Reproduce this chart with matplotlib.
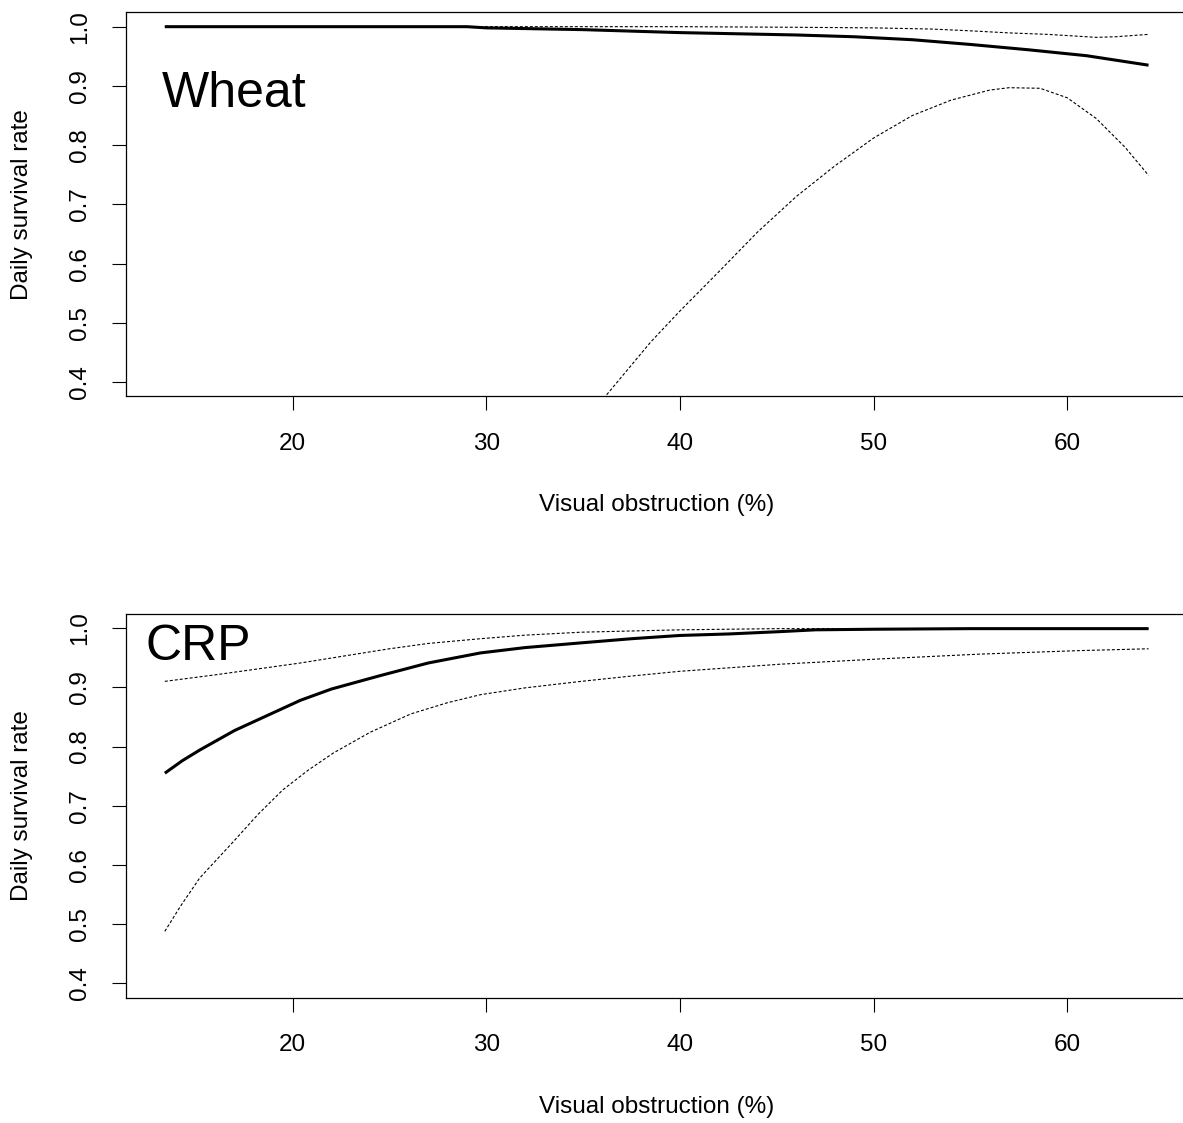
import matplotlib.pyplot as plt

plt.rcParams['font.family'] = ['Liberation Sans', 'DejaVu Sans']

# Wheat panel
wheat_x_mean = [13.4, 29.0, 30.0, 35.0, 40.0, 43.0, 46.0, 49.0, 52.0, 55.0, 58.0, 61.0, 64.2]
wheat_mean = [1.0, 1.0, 0.998, 0.995, 0.990, 0.988, 0.986, 0.983, 0.978, 0.970, 0.961, 0.951, 0.935]
wheat_x_upper = [13.4, 40.0, 46.0, 50.0, 53.0, 55.0, 57.0, 59.0, 61.5, 62.5, 64.2]
wheat_upper = [1.0, 1.0, 0.999, 0.998, 0.996, 0.993, 0.9895, 0.987, 0.982, 0.983, 0.987]
wheat_x_lower = [35.0, 36.15, 38.5, 40.0, 42.0, 44.0, 46.0, 48.0, 50.0, 52.0, 54.0, 56.0, 57.0,
                 58.6, 60.0, 61.5, 63.0, 64.2]
wheat_lower = [0.335, 0.376, 0.468, 0.520, 0.586, 0.653, 0.713, 0.765, 0.812, 0.850, 0.876, 0.893,
               0.897, 0.896, 0.880, 0.845, 0.796, 0.749]

# CRP panel
crp_x_mean = [13.4, 14.3, 15.2, 17.0, 19.0, 20.4, 22.0, 24.5, 27.0, 29.7, 32.0, 34.9, 37.5, 40.0,
              42.5, 45.2, 47.0, 50.0, 55.0, 60.0, 64.2]
crp_mean = [0.755, 0.776, 0.794, 0.827, 0.857, 0.878, 0.897, 0.9195, 0.941, 0.958, 0.967, 0.975,
            0.982, 0.9875, 0.990, 0.994, 0.997, 0.998, 0.999, 0.999, 0.999]
crp_x_upper = [13.4, 16.0, 18.65, 20.4, 22.5, 25.0, 27.0, 29.7, 32.0, 34.9, 40.0, 45.0, 64.2]
crp_upper = [0.910, 0.921, 0.933, 0.941, 0.952, 0.965, 0.974, 0.982, 0.988, 0.993, 0.997, 0.999, 0.999]
crp_x_lower = [13.4, 14.2, 15.2, 16.9, 18.2, 19.5, 20.8, 22.1, 24.0, 26.1, 28.0, 29.7, 32.0,
               34.9, 37.5, 40.0, 45.2, 50.4, 55.5, 60.7, 64.2]
crp_lower = [0.488, 0.530, 0.578, 0.638, 0.685, 0.727, 0.760, 0.789, 0.824, 0.855, 0.874, 0.8875,
             0.899, 0.910, 0.919, 0.927, 0.939, 0.948, 0.956, 0.962, 0.965]

x_ticks = [20, 30, 40, 50, 60]
y_ticks = [0.4, 0.5, 0.6, 0.7, 0.8, 0.9, 1.0]

panels = [
    ('Wheat', (13.26, 0.864), wheat_x_mean, wheat_mean, wheat_x_upper, wheat_upper,
     wheat_x_lower, wheat_lower, 0.6471),
    ('CRP', (12.38, 0.9453), crp_x_mean, crp_mean, crp_x_upper, crp_upper,
     crp_x_lower, crp_lower, 0.1116),
]

fig = plt.figure(figsize=(11.83, 11.23), dpi=100)
fs = 17.5
dots = (0, (2.7, 1.8))

for name, pos, xm, ym, xu, yu, xl, yl, bottom in panels:
    # right edge of the box falls just outside the image, as in the original
    ax = fig.add_axes([0.1061, bottom, 0.898, 0.3418])
    ax.plot(xm, ym, color='black', lw=2.2, solid_capstyle='butt')
    ax.plot(xu, yu, color='black', lw=0.8, linestyle=dots)
    ax.plot(xl, yl, color='black', lw=0.8, linestyle=dots)

    ax.set_xlim(11.37, 66.23)
    ax.set_ylim(0.376, 1.024)
    ax.set_xticks(x_ticks)
    ax.set_xticklabels([str(t) for t in x_ticks], fontsize=fs)
    ax.set_yticks(y_ticks)
    ax.set_yticklabels([f'{t:.1f}' for t in y_ticks], fontsize=fs, rotation=90, va='center')
    ax.tick_params(axis='y', length=10, width=0.8, pad=14.5, direction='out', colors='black')
    ax.tick_params(axis='x', length=10, width=0.8, pad=16.5, direction='out', colors='black')
    for sp in ax.spines.values():
        sp.set_linewidth(0.9)
    ax.spines['right'].set_visible(False)

    ax.set_xlabel('Visual obstruction (%)', fontsize=fs)
    ax.xaxis.set_label_coords(0.5, -0.284)
    ax.xaxis.label.set_va('center')
    ax.set_ylabel('Daily survival rate', fontsize=fs)
    ax.yaxis.set_label_coords(-0.0974, 0.5)
    ax.yaxis.label.set_va('center')

    ax.text(pos[0], pos[1], name, fontsize=36, ha='left', va='baseline')

plt.savefig('out.png', dpi=100)
